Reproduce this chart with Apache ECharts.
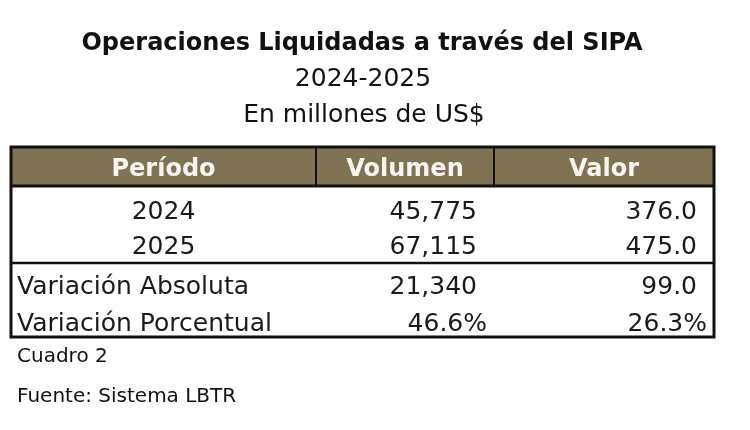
<!DOCTYPE html>
<html>
<head>
<meta charset="utf-8">
<script src="https://cdn.jsdelivr.net/npm/echarts@6/dist/echarts.min.js"></script>
<style>
  html, body { margin: 0; padding: 0; background: #fff; }
  #tableChart { width: 750px; height: 430px; }
</style>
</head>
<body>
<div id="tableChart"></div>
<script>
// Cuadro: operaciones liquidadas a través del SIPA
const titleLines = ['Operaciones Liquidadas a través del SIPA', '2024-2025', 'En millones de US$'];
const footLines = ['Cuadro 2', 'Fuente: Sistema LBTR'];
const columns = ['Período', 'Volumen', 'Valor'];
const periods = ['2024', '2025'];
const volumen = [45775, 67115];
const valor = [376.0, 475.0];
const variationLabels = ['Variación Absoluta', 'Variación Porcentual'];
const variationVolumen = [21340, 46.6];
const variationValor = [99.0, 26.3];

// layout (table units, grid maps 1:1 to pixels)
const colEdges = [0, 305, 483, 703];
const rowEdges = [0, 39, 79, 116, 155, 190];
const rowText = [23, 65, 100, 140, 177];
const FONT = '"DejaVu Sans", sans-serif';
const headerColor = '#807353';

const fmtInt = v => v.toLocaleString('en-US');
const fmtDec = v => v.toFixed(1);
const fmtPct = v => v.toFixed(1) + '%';

// cells: [col, row, text, kind]
const cells = [];
columns.forEach((c, i) => cells.push([i, 0, c, 'head']));
periods.forEach((p, i) => {
  cells.push([0, i + 1, p, 'center']);
  cells.push([1, i + 1, fmtInt(volumen[i]), 'num']);
  cells.push([2, i + 1, fmtDec(valor[i]), 'num']);
});
variationLabels.forEach((l, i) => {
  const pct = i === 1;
  cells.push([0, i + 3, l, 'left']);
  cells.push([1, i + 3, pct ? fmtPct(variationVolumen[i]) : fmtInt(variationVolumen[i]), pct ? 'pct' : 'num']);
  cells.push([2, i + 3, pct ? fmtPct(variationValor[i]) : fmtDec(variationValor[i]), pct ? 'pct' : 'num']);
});

const tableChart = echarts.init(document.getElementById('tableChart'));

function renderCell(params, api) {
  const c = api.value(0);
  const r = api.value(1);
  const cell = cells[params.dataIndex];
  const p0 = api.coord([colEdges[c], rowEdges[r]]);
  const p1 = api.coord([colEdges[c + 1], rowEdges[r + 1]]);
  const cy = api.coord([0, rowText[r]])[1];
  const kind = cell[3];
  let x = (p0[0] + p1[0]) / 2;
  let align = 'center';
  if (kind === 'left') { x = p0[0] + 6; align = 'left'; }
  if (kind === 'num') { x = p1[0] - 17; align = 'right'; }
  if (kind === 'pct') { x = p1[0] - 7; align = 'right'; }
  const children = [];
  if (kind === 'head') {
    children.push({
      type: 'rect',
      shape: { x: p0[0], y: p0[1], width: p1[0] - p0[0], height: p1[1] - p0[1] },
      style: { fill: headerColor, stroke: '#111', lineWidth: 2 }
    });
  }
  children.push({
    type: 'text',
    style: {
      text: cell[2],
      x: x,
      y: cy,
      align: align,
      textAlign: align,
      verticalAlign: 'middle',
      textVerticalAlign: 'middle',
      font: (kind === 'head' ? 'bold 24px ' : '25px ') + FONT,
      fill: kind === 'head' ? '#f7f5ef' : '#1a1a1a'
    }
  });
  return { type: 'group', children: children };
}

function renderFrame(params, api) {
  const tl = api.coord([colEdges[0], rowEdges[0]]);
  const br = api.coord([colEdges[3], rowEdges[5]]);
  const h = api.coord([0, rowEdges[1]])[1];
  const sep = api.coord([0, rowEdges[3]])[1];
  return {
    type: 'group',
    children: [
      {
        type: 'rect',
        shape: { x: tl[0], y: tl[1], width: br[0] - tl[0], height: br[1] - tl[1] },
        style: { fill: 'none', stroke: '#111', lineWidth: 3 }
      },
      {
        type: 'line',
        shape: { x1: tl[0], y1: h, x2: br[0], y2: h },
        style: { stroke: '#111', lineWidth: 3 }
      },
      {
        type: 'line',
        shape: { x1: tl[0], y1: sep, x2: br[0], y2: sep },
        style: { stroke: '#111', lineWidth: 2.5 }
      }
    ]
  };
}

const graphicTexts = [
  { text: titleLines[0], x: 362, y: 44, font: 'bold 24px ' + FONT, align: 'center' },
  { text: titleLines[1], x: 363, y: 79, font: '25px ' + FONT, align: 'center' },
  { text: titleLines[2], x: 364, y: 115, font: '25px ' + FONT, align: 'center' },
  { text: footLines[0], x: 17, y: 357, font: '20px ' + FONT, align: 'left' },
  { text: footLines[1], x: 17, y: 397, font: '20px ' + FONT, align: 'left' }
].map(t => ({
  type: 'text',
  silent: true,
  style: {
    text: t.text,
    x: t.x,
    y: t.y,
    font: t.font,
    fill: '#111',
    align: t.align,
    textAlign: t.align,
    verticalAlign: 'middle',
    textVerticalAlign: 'middle'
  }
}));

const tableOption = {
  animation: false,
  graphic: graphicTexts,
  grid: { left: 11, top: 147, width: 703, height: 190 },
  xAxis: { type: 'value', min: 0, max: 703, show: false },
  yAxis: { type: 'value', min: 0, max: 190, inverse: true, show: false },
  series: [
    {
      type: 'custom',
      clip: false,
      silent: true,
      renderItem: renderCell,
      data: cells.map(c => [c[0], c[1]]),
      z: 2
    },
    {
      type: 'custom',
      clip: false,
      silent: true,
      renderItem: renderFrame,
      data: [[0, 0]],
      z: 3
    }
  ]
};
tableChart.setOption(tableOption);

window.onresize = function() {
  tableChart.resize();
};
</script>
</body>
</html>
